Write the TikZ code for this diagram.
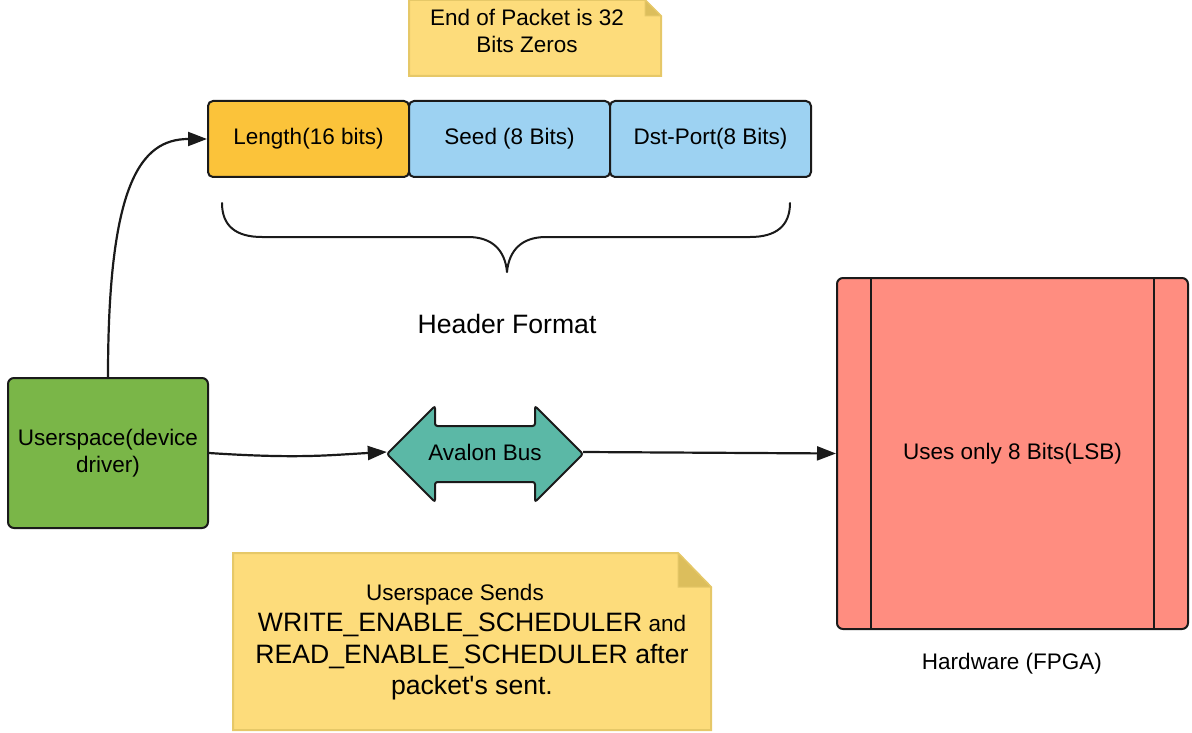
\documentclass[tikz,border=0pt]{standalone}
\usepackage{fontspec}
\setmainfont{Liberation Sans}
\usetikzlibrary{arrows.meta}

\definecolor{notefill}{HTML}{FDDC7B}
\definecolor{noteedge}{HTML}{E6C868}
\definecolor{notefold}{HTML}{DCBE5C}
\definecolor{lenfill}{HTML}{FBC33A}
\definecolor{fieldfill}{HTML}{9DD2F2}
\definecolor{userfill}{HTML}{7AB648}
\definecolor{busfill}{HTML}{5BB8A6}
\definecolor{hwfill}{HTML}{FF8D80}
\definecolor{edge}{HTML}{1A1A1A}

\newcommand{\txtn}{\fontsize{22.5}{27}\selectfont}
\newcommand{\txtl}{\fontsize{26.6}{31}\selectfont}

\begin{document}
\begin{tikzpicture}[x=1pt,y=-1pt,
  field/.style={draw=edge, line width=2pt, rounded corners=5pt,
    minimum width=201pt, minimum height=76pt, inner sep=0pt, font=\txtn},
  block/.style={draw=edge, line width=2pt, rounded corners=6pt,
    inner sep=0pt, align=center, font=\txtn},
  note/.style={fill=notefill, draw=noteedge, line width=2pt, line join=miter},
  fold/.style={fill=notefold, draw=noteedge, line width=1pt},
  conn/.style={draw=edge, line width=2.2pt, -{Triangle[length=19pt,width=14pt]}},
  label/.style={inner sep=0pt, align=center}]
\useasboundingbox (0,0) rectangle (1192,733);

% sticky note: end of packet
\path[note] (409,0) -- (645,0) -- (661,16) -- (661,76) -- (409,76) -- cycle;
\path[fold] (645,0) -- (645,16) -- (661,16) -- cycle;
\node[label, font=\txtn] (eop) at (527,31) {End of Packet is 32\\Bits Zeros};

% header fields
\node[field, fill=lenfill]   (len)  at (308.5,139) {Length(16 bits)};
\node[field, fill=fieldfill] (seed) at (509.5,139) {Seed (8 Bits)};
\node[field, fill=fieldfill] (dst)  at (710.5,139) {Dst-Port(8 Bits)};

% brace under the header
\draw[edge, line width=2pt, line cap=round, line join=round]
  (222,203) .. controls (222,226) and (236,237) .. (262,237) -- (468,237)
  .. controls (492,237) and (505,250) .. (507,272)
  .. controls (509,250) and (522,237) .. (546,237) -- (750,237)
  .. controls (776,237) and (790,226) .. (790,203);
\node[label, font=\txtl] (hdr) at (507,324) {Header Format};

% userspace block
\node[block, fill=userfill, minimum width=200pt, minimum height=150pt]
  (user) at (108,453) {Userspace(device\\driver)};

% Avalon bus double arrow
\path[fill=busfill, draw=edge, line width=2pt, rounded corners=2.5pt]
  (387,454) -- (435,406) -- (435,426) -- (535,426) -- (535,406) -- (583,454)
  -- (535,502) -- (535,482) -- (435,482) -- (435,502) -- cycle;
\node[inner sep=0pt, minimum width=196pt, minimum height=96pt, font=\txtn]
  (avalon) at (485,452) {Avalon Bus};

% hardware block
\node[block, fill=hwfill, minimum width=351pt, minimum height=351pt]
  (hw) at (1012.5,453.5) {Uses only 8 Bits(LSB)};
\draw[edge, line width=2pt] ([xshift=35pt]hw.north west) -- ([xshift=35pt]hw.south west);
\draw[edge, line width=2pt] ([xshift=-35pt]hw.north east) -- ([xshift=-35pt]hw.south east);
\node[label, font=\txtn] (hwlbl) at (1012,664) {Hardware (FPGA)};

% sticky note: scheduler commands
\path[note] (233,553) -- (678,553) -- (711,587) -- (711,730) -- (233,730) -- cycle;
\path[fold] (678,553) -- (678,587) -- (711,587) -- cycle;
\node[label, font=\fontsize{22.5}{31.5}\selectfont] (sched) at (472,642)
  {Userspace Sends\hspace*{34pt}\\
   {\txtl WRITE\_ENABLE\_SCHEDULER} and\\
   {\txtl READ\_ENABLE\_SCHEDULER after}\\
   {\txtl packet\textquotesingle s sent.}};

% connectors
\draw[conn] (user.north) .. controls (108,185) and (140,139) .. (len.west);
\draw[conn] (user.east) .. controls (300,459) and (330,455) .. (avalon.west);
\draw[conn] (avalon.east) -- (hw.west);
\end{tikzpicture}
\end{document}
